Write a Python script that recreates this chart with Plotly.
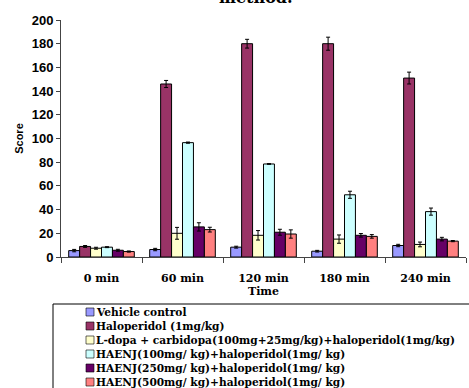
import plotly.graph_objects as go

categories = ["0 min", "60 min", "120 min", "180 min", "240 min"]
series_names = [
    "Vehicle control",
    "Haloperidol (1mg/kg)",
    "L-dopa + carbidopa(100mg+25mg/kg)+haloperidol(1mg/kg)",
    "HAENJ(100mg/ kg)+haloperidol(1mg/ kg)",
    "HAENJ(250mg/ kg)+haloperidol(1mg/ kg)",
    "HAENJ(500mg/ kg)+haloperidol(1mg/ kg)",
]
vehicle = [5.4, 6.3, 8.3, 4.9, 9.7]
vehicle_err = [1.0, 1.0, 0.8, 0.7, 1.0]
halo = [8.9, 146, 180, 180, 151]
halo_err = [0.8, 3.0, 3.7, 5.5, 5.0]
ldopa = [7.4, 20, 18.3, 15.1, 10.6]
ldopa_err = [0.8, 5.0, 4.0, 3.5, 2.0]
h100 = [8.3, 96.5, 78.5, 52.5, 38.3]
h100_err = [0.4, 0.5, 0.3, 3.0, 3.0]
h250 = [5.7, 25.4, 20.9, 18.3, 15.1]
h250_err = [0.8, 3.5, 2.5, 1.5, 1.5]
h500 = [4.6, 23.1, 19.4, 17.4, 13.4]
h500_err = [0.5, 2.0, 3.5, 1.5, 0.5]
colors = ["#9999FF", "#993366", "#FFFFCC", "#CCFFFF", "#660066", "#FF8080"]

values = [vehicle, halo, ldopa, h100, h250, h500]
errors = [vehicle_err, halo_err, ldopa_err, h100_err, h250_err, h500_err]

serif = "DejaVu Serif"
sans = "Liberation Sans"

# plot area geometry (pixels)
L, R, T, B = 61, 466, 20, 257
W, H = R - L, B - T


def px(x):
    return (x - L) / W


def py(y):
    return (B - y) / H


fig = go.Figure()
for name, v, e, c in zip(series_names, values, errors, colors):
    fig.add_trace(go.Bar(
        x=categories, y=v, name=name,
        marker=dict(color=c, line=dict(color="black", width=1)),
        error_y=dict(type="data", array=e, color="black", thickness=1, width=2),
    ))

shapes = [dict(type="rect", xref="paper", yref="paper",
               x0=px(53), x1=px(480), y0=py(304), y1=py(400),
               line=dict(color="black", width=1), fillcolor="rgba(0,0,0,0)")]
annotations = [dict(text="method.", xref="paper", yref="paper",
                    x=px(256), y=py(-3), xanchor="center", yanchor="middle",
                    showarrow=False,
                    font=dict(family=serif, size=16, color="black", weight="bold"))]
for i, (name, c) in enumerate(zip(series_names, colors)):
    yc = 312 + 14 * i
    shapes.append(dict(type="rect", xref="paper", yref="paper",
                       x0=px(86), x1=px(94), y0=py(yc - 4), y1=py(yc + 4),
                       line=dict(color="black", width=0.6), fillcolor=c))
    annotations.append(dict(text=name, xref="paper", yref="paper",
                            x=px(94), y=py(yc), xanchor="left", yanchor="middle",
                            showarrow=False,
                            font=dict(family=serif, size=10.6, color="black", weight="bold")))

fig.update_layout(
    width=469, height=388,
    margin=dict(l=L, r=469 - R, t=T, b=388 - B, autoexpand=False),
    paper_bgcolor="white", plot_bgcolor="white",
    barmode="group", bargap=0.19, bargroupgap=0,
    showlegend=False,
    xaxis=dict(
        showline=True, linecolor="#444", linewidth=1,
        ticks="outside", ticklen=5, tickcolor="#444", tickson="boundaries",
        ticklabelstandoff=11,
        tickfont=dict(family=serif, size=11, color="black", weight="bold"),
        title=dict(text="Time", standoff=1,
                   font=dict(family=serif, size=11, color="black", weight="bold")),
        showgrid=False,
    ),
    yaxis=dict(
        range=[0, 200], dtick=20,
        showline=True, linecolor="#444", linewidth=1,
        ticks="outside", ticklen=4, tickcolor="#444",
        tickfont=dict(family=sans, size=13, color="black", weight="bold"),
        title=dict(text="Score", standoff=5,
                   font=dict(family=sans, size=11, color="black", weight="bold")),
        showgrid=False, zeroline=False,
    ),
    shapes=shapes,
    annotations=annotations,
)

fig.write_html("out.html")
